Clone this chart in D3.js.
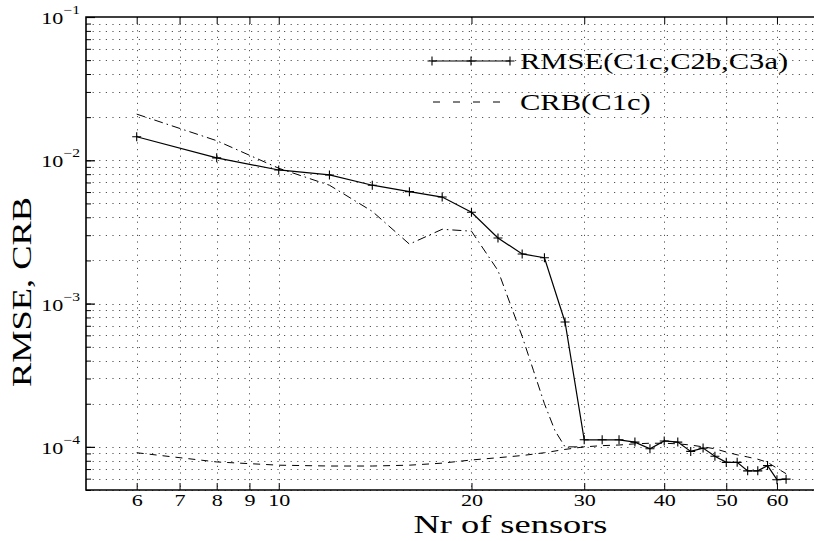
<!DOCTYPE html>
<html>
<head>
<meta charset="utf-8">
<script src="https://cdn.jsdelivr.net/npm/d3@7"></script>
<style>
  html, body { margin: 0; padding: 0; background: #fff; }
  svg { display: block; }
  text { font-family: "Liberation Serif", "Times New Roman", Times, serif; fill: #000; }
</style>
</head>
<body>
<svg id="chart" width="814" height="541"></svg>
<script>
// Number of sensors at which the estimators were evaluated
const nSensors = [6, 8, 10, 12, 14, 16, 18, 20, 22, 24, 26, 28, 30, 32, 34, 36, 38, 40,
                  42, 44, 46, 48, 50, 52, 54, 56, 58, 60, 62];
// RMSE of the combined estimator (C1c, C2b, C3a)
const rmseValues = [1.46e-2, 1.04e-2, 8.56e-3, 7.9e-3, 6.7e-3, 6.04e-3, 5.54e-3, 4.34e-3,
                    2.87e-3, 2.22e-3, 2.09e-3, 7.44e-4, 1.12e-4, 1.12e-4, 1.12e-4, 1.08e-4,
                    9.7e-5, 1.1e-4, 1.08e-4, 9.3e-5, 9.8e-5, 8.6e-5, 7.8e-5, 7.8e-5,
                    6.8e-5, 6.8e-5, 7.4e-5, 5.9e-5, 5.95e-5];
// CRB of C1c
const crbValues = [9.1e-5, 7.85e-5, 7.45e-5, 7.35e-5, 7.35e-5, 7.45e-5, 7.7e-5, 8.1e-5,
                   8.4e-5, 8.7e-5, 9.1e-5, 9.6e-5, 1.0e-4, 1.02e-4, 1.03e-4, 1.05e-4,
                   1.06e-4, 1.06e-4, 1.05e-4, 1.03e-4, 1.0e-4, 9.7e-5, 9.2e-5, 8.8e-5,
                   8.5e-5, 8.2e-5, 7.8e-5, 7.1e-5, 6.5e-5];
// Second bound (dash-dot curve)
const boundSensors = [6, 8, 10, 12, 14, 16, 18, 20, 22, 24, 25, 26, 27, 28, 30];
const boundValues = [2.1e-2, 1.37e-2, 8.8e-3, 6.7e-3, 4.4e-3, 2.6e-3, 3.3e-3, 3.2e-3,
                     1.7e-3, 5.9e-4, 3.4e-4, 2.0e-4, 1.3e-4, 1.0e-4, 1.0e-4];

const xTickValues = [6, 7, 8, 9, 10, 20, 30, 40, 50, 60];
const yDecadeExponents = [-1, -2, -3, -4];
const legendLabels = ["RMSE(C1c,C2b,C3a)", "CRB(C1c)"];

// ---- layout ----
const svg = d3.select("#chart");
// the axes box runs past the right edge of the page
const plotLeft = 86, plotRight = 919, plotTop = 17, plotBottom = 490;
const SX = 1.3; // horizontal glyph stretch used for all text

const x = d3.scaleLog().domain([5, 100]).range([plotLeft, plotRight]);
const y = d3.scaleLog().domain([5e-5, 1e-1]).range([plotBottom, plotTop]);

// minor grid values on the log y axis (1..9 x 10^k inside the domain)
const yGrid = [];
for (let k = -5; k <= -1; k++) {
  for (let m = 1; m <= 9; m++) {
    const v = m * Math.pow(10, k);
    if (v >= 5e-5 * 0.999 && v <= 1e-1 * 1.001) yGrid.push(v);
  }
}

svg.append("defs").append("clipPath").attr("id", "plotClip")
  .append("rect").attr("x", plotLeft).attr("y", plotTop)
  .attr("width", plotRight - plotLeft).attr("height", plotBottom - plotTop);

// ---- grid ----
const grid = svg.append("g").attr("class", "grid")
  .attr("stroke", "#555").attr("stroke-width", 1).attr("stroke-dasharray", "1.2,5.4");
grid.selectAll("line.gy").data(yGrid.filter(v => v < 1e-1)).join("line")
  .attr("class", "gy")
  .attr("x1", plotLeft).attr("x2", plotRight)
  .attr("y1", d => Math.round(y(d)) + 0.5).attr("y2", d => Math.round(y(d)) + 0.5);
grid.selectAll("line.gx").data(xTickValues).join("line")
  .attr("class", "gx")
  .attr("y1", plotTop).attr("y2", plotBottom)
  .attr("x1", d => Math.round(x(d)) + 0.5).attr("x2", d => Math.round(x(d)) + 0.5);

// ---- series ----
const plot = svg.append("g").attr("clip-path", "url(#plotClip)");
const line = d3.line().x(d => x(d[0])).y(d => y(d[1]));

plot.append("path")
  .datum(d3.zip(nSensors, crbValues))
  .attr("d", line).attr("fill", "none").attr("stroke", "#000")
  .attr("stroke-width", 1).attr("stroke-dasharray", "7,6");

plot.append("path")
  .datum(d3.zip(boundSensors, boundValues))
  .attr("d", line).attr("fill", "none").attr("stroke", "#000")
  .attr("stroke-width", 1).attr("stroke-dasharray", "9,4,1.5,4");

const rmsePts = d3.zip(nSensors, rmseValues);
plot.append("path")
  .datum(rmsePts)
  .attr("d", line).attr("fill", "none").attr("stroke", "#000").attr("stroke-width", 1.2);

const plus = (sel, s) => sel.append("path")
  .attr("d", `M${-s},0H${s}M0,${-s}V${s}`)
  .attr("stroke", "#000").attr("stroke-width", 1.1).attr("fill", "none");
plot.selectAll("g.mk").data(rmsePts).join("g").attr("class", "mk")
  .attr("transform", d => `translate(${x(d[0])},${y(d[1])})`)
  .each(function () { plus(d3.select(this), 4.5); });

// ---- axes ----
const xAxisBottom = d3.axisBottom(x).tickValues(xTickValues).tickSize(-7).tickFormat(d3.format("d"));
const gxb = svg.append("g").attr("transform", `translate(0,${plotBottom})`).call(xAxisBottom);
gxb.select(".domain").remove();
gxb.selectAll(".tick line").attr("stroke", "#000").attr("stroke-width", 1);
gxb.selectAll(".tick text")
  .attr("y", null).attr("dy", null).attr("x", null)
  .attr("transform", `translate(0,16) scale(${SX},1)`)
  .attr("text-anchor", "middle")
  .style("font-family", "'Liberation Serif', 'Times New Roman', serif")
  .style("font-size", "17px").attr("fill", "#000");

const xAxisTop = d3.axisTop(x).tickValues(xTickValues).tickSize(-7).tickFormat("");
const gxt = svg.append("g").attr("transform", `translate(0,${plotTop})`).call(xAxisTop);
gxt.select(".domain").remove();
gxt.selectAll(".tick line").attr("stroke", "#000");

const yMinor = d3.axisLeft(y).tickValues(yGrid).tickSize(-5).tickFormat("");
const gym = svg.append("g").attr("transform", `translate(${plotLeft},0)`).call(yMinor);
gym.select(".domain").remove();
gym.selectAll(".tick line").attr("stroke", "#000");

const yMajor = d3.axisLeft(y).tickValues(yDecadeExponents.map(e => Math.pow(10, e)))
  .tickSize(-9).tickFormat("");
const gyM = svg.append("g").attr("transform", `translate(${plotLeft},0)`).call(yMajor);
gyM.select(".domain").remove();
gyM.selectAll(".tick line").attr("stroke", "#000").attr("stroke-width", 1.2);

// decade labels 10^k
const yLab = svg.append("g");
yDecadeExponents.forEach(e => {
  const t = yLab.append("text")
    .attr("transform", `translate(80,${y(Math.pow(10, e)) + 7}) scale(${SX},1)`)
    .attr("text-anchor", "end").style("font-size", "17px");
  t.append("tspan").text("10");
  t.append("tspan").attr("dy", -10).style("font-size", "12px").text("\u2212" + Math.abs(e));
});

// frame
svg.append("path")
  .attr("d", `M${plotRight},${plotTop}H${plotLeft}V${plotBottom}H${plotRight}`)
  .attr("fill", "none").attr("stroke", "#000").attr("stroke-width", 1.6);

// axis titles
svg.append("text")
  .attr("transform", `translate(${(plotLeft + plotRight) / 2 + 8},533) scale(1.4,1)`)
  .attr("text-anchor", "middle").style("font-size", "26px")
  .text("Nr of sensors");
svg.append("text")
  .attr("transform", `translate(31,292) rotate(-90) scale(${SX},1)`)
  .attr("text-anchor", "middle").style("font-size", "28px")
  .text("RMSE, CRB");

// ---- legend ----
const lg = svg.append("g");
const row1 = 61, row2 = 102;
lg.append("line").attr("x1", 432).attr("x2", 510).attr("y1", row1).attr("y2", row1)
  .attr("stroke", "#000").attr("stroke-width", 1.2);
[432, 471, 510].forEach(px => {
  const g = lg.append("g").attr("transform", `translate(${px},${row1})`);
  plus(g, 4.5);
});
lg.append("line").attr("x1", 433).attr("x2", 502).attr("y1", row2).attr("y2", row2)
  .attr("stroke", "#000").attr("stroke-width", 1).attr("stroke-dasharray", "7,13");
legendLabels.forEach((txt, i) => {
  lg.append("text")
    .attr("transform", `translate(520,${(i === 0 ? row1 : row2) + 8}) scale(${SX},1)`)
    .style("font-size", "23.5px").text(txt);
});
</script>
</body>
</html>
